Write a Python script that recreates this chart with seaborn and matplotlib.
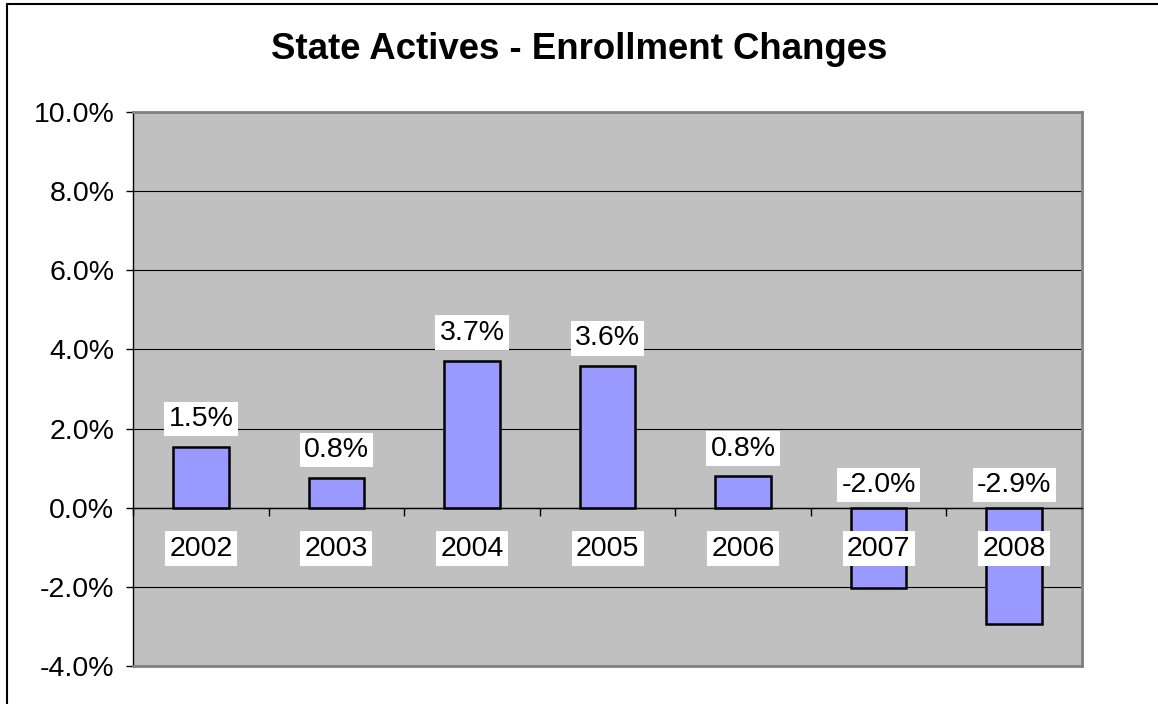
import seaborn as sns
import pandas as pd
import matplotlib.pyplot as plt
from matplotlib.ticker import FuncFormatter
from matplotlib.lines import Line2D

# Chart data (percent change)
years = ['2002', '2003', '2004', '2005', '2006', '2007', '2008']
changes = [1.54, 0.76, 3.72, 3.58, 0.79, -2.02, -2.93]
y_ticks = [-4, -2, 0, 2, 4, 6, 8, 10]

df = pd.DataFrame({'Year': years, 'Change': changes})

sns.set_style('white')
plt.rcParams['font.family'] = ['Liberation Sans', 'DejaVu Sans']
plt.rcParams['text.color'] = 'black'

fs = 20.5

fig, ax = plt.subplots(figsize=(11.58, 7.04), dpi=100)
fig.subplots_adjust(left=0.1149, right=0.9344, bottom=0.054, top=0.8409)

sns.barplot(data=df, x='Year', y='Change', color='#9999FF', saturation=1,
            width=0.41, edgecolor='black', linewidth=1.8, ax=ax)

# Plot area look
ax.set_facecolor('#C0C0C0')
ax.set_xlim(-0.5, 6.5)
ax.set_ylim(-4, 10)
ax.set_yticks(y_ticks)
ax.yaxis.set_major_formatter(FuncFormatter(lambda v, p: f'{v:.1f}%'))
ax.grid(axis='y', color='black', lw=0.8)
ax.set_axisbelow(True)
ax.set_xlabel('')
ax.set_ylabel('')

ax.tick_params(axis='y', labelsize=fs, length=5, width=1, color='black',
               pad=8.5, direction='out', left=True, labelcolor='black')
ax.tick_params(axis='x', which='major', length=0, labelbottom=False)
ax.set_xticks([i - 0.5 for i in range(len(years) + 1)], minor=True)
ax.tick_params(axis='x', which='minor', length=6, width=1, color='black',
               direction='out', bottom=True)

ax.spines['bottom'].set_position(('data', 0))
ax.spines['bottom'].set_color('black')
ax.spines['bottom'].set_linewidth(1)
ax.spines['left'].set_color('black')
ax.spines['left'].set_linewidth(1)
for side in ['top', 'right']:
    ax.spines[side].set_visible(True)
    ax.spines[side].set_color('#808080')
    ax.spines[side].set_linewidth(2)
ax.axhline(-4, color='#808080', lw=2, clip_on=False, zorder=3)

# Value labels above the bars
for i, v in enumerate(changes):
    off = 20 if v > 0 else 16.5
    ax.annotate(f'{v:.1f}%', (i, max(v, 0)), xytext=(0, off),
                textcoords='offset points', ha='center', va='center',
                fontsize=fs, color='black', zorder=4,
                bbox=dict(facecolor='white', edgecolor='none', pad=3))

# Category labels under the zero line
for i, yr in enumerate(years):
    ax.annotate(yr, (i, 0), xytext=(0, -29.5), textcoords='offset points',
                ha='center', va='center', fontsize=fs, color='black', zorder=4,
                bbox=dict(facecolor='white', edgecolor='none', pad=3))

fig.text(0.5, 0.93, 'State Actives - Enrollment Changes', ha='center',
         va='center', fontsize=26.4, fontweight='bold', color='black')

# Outer chart border (left and top)
fig.add_artist(Line2D([7 / 1158, 7 / 1158], [0, 1 - 4 / 704],
                      transform=fig.transFigure, color='black', lw=1.5))
fig.add_artist(Line2D([7 / 1158, 1], [1 - 4 / 704, 1 - 4 / 704],
                      transform=fig.transFigure, color='black', lw=1.5))

fig.savefig('out.png', dpi=100)
